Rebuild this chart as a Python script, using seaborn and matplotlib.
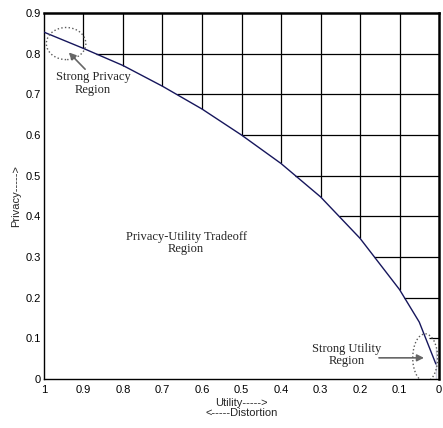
import numpy as np
import pandas as pd
import matplotlib
matplotlib.use("Agg")
import matplotlib.pyplot as plt
from matplotlib.patches import Ellipse
import seaborn as sns

# tradeoff curve (utility on x, privacy on y)
utility = [1.0, 0.9, 0.8, 0.7, 0.6, 0.5, 0.4, 0.3, 0.2, 0.1, 0.05, 0.008, 0.008]
privacy = [0.853, 0.813, 0.771, 0.72, 0.664, 0.6, 0.53, 0.448, 0.346, 0.22, 0.14, 0.074, 0.0]
x_ticks = [1, 0.9, 0.8, 0.7, 0.6, 0.5, 0.4, 0.3, 0.2, 0.1, 0]
x_ticklabels = ["1", "0.9", "0.8", "0.7", "0.6", "0.5", "0.4", "0.3", "0.2", "0.1", "0"]
y_ticks = [0, 0.1, 0.2, 0.3, 0.4, 0.5, 0.6, 0.7, 0.8, 0.9]
y_ticklabels = ["0", "0.1", "0.2", "0.3", "0.4", "0.5", "0.6", "0.7", "0.8", "0.9"]

sns.set_style("white")
plt.rcParams["font.family"] = ["Liberation Sans", "DejaVu Sans"]

df = pd.DataFrame({"Utility": utility, "Privacy": privacy})

fig = plt.figure(figsize=(4.43, 4.28), dpi=100)
ax = fig.add_axes([0.0993, 0.1145, 0.8917, 0.855])

sns.lineplot(data=df, x="Utility", y="Privacy", sort=False, color="#16165c",
             lw=1.0, ax=ax, zorder=5)

# hatch-like grid above the curve
u_arr = np.array(utility)
p_arr = np.array(privacy)
for xv in x_ticks[1:-1]:
    y0 = np.interp(xv, u_arr[::-1], p_arr[::-1])
    ax.vlines(xv, y0, 0.9, color="black", lw=0.9, zorder=3)
for yv in y_ticks[1:-1]:
    x0 = np.interp(yv, p_arr[::-1], u_arr[::-1])
    ax.hlines(yv, x0, 0, color="black", lw=0.9, zorder=3)

ax.set_xlim(1, 0)
ax.set_ylim(0, 0.9)
ax.set_xticks(x_ticks)
ax.set_xticklabels(x_ticklabels)
ax.set_yticks(y_ticks)
ax.set_yticklabels(y_ticklabels)
ax.tick_params(axis="both", length=0, labelsize=8, colors="black")
ax.tick_params(axis="x", pad=4.5)
ax.tick_params(axis="y", pad=2.2)

for side in ["left", "bottom"]:
    ax.spines[side].set_color("black")
    ax.spines[side].set_linewidth(1.0)
for side in ["top", "right"]:
    ax.spines[side].set_visible(True)
    ax.spines[side].set_color("black")
    ax.spines[side].set_linewidth(1.8)

ax.set_xlabel("Utility----->\n<-----Distortion", fontsize=8, labelpad=2, linespacing=1.05)
ax.set_ylabel("Privacy----->", fontsize=8, labelpad=3)

serif = ["Liberation Serif", "DejaVu Serif"]
txt_col = "0.15"
ax.text(0.876, 0.727, "Strong Privacy\nRegion", family=serif, fontsize=9,
        ha="center", va="center", color=txt_col, linespacing=1.05)
ax.text(0.64, 0.334, "Privacy-Utility Tradeoff\nRegion", family=serif, fontsize=9,
        ha="center", va="center", color=txt_col, linespacing=1.05)
ax.text(0.233, 0.059, "Strong Utility\nRegion", family=serif, fontsize=9,
        ha="center", va="center", color=txt_col, linespacing=1.05)

arrow = dict(arrowstyle="-|>", color="0.4", lw=1.2, mutation_scale=10)
ax.annotate("", xy=(0.942, 0.808), xytext=(0.891, 0.757), arrowprops=arrow)
ax.annotate("", xy=(0.031, 0.052), xytext=(0.159, 0.052), arrowprops=arrow)

ax.add_patch(Ellipse((0.944, 0.825), 0.10, 0.079, fill=False, ls=":",
                     color="0.35", lw=1.0, zorder=6))
ax.add_patch(Ellipse((0.035, 0.052), 0.063, 0.118, fill=False, ls=":",
                     color="0.35", lw=1.0, zorder=6))

fig.savefig("out.png", dpi=100)
